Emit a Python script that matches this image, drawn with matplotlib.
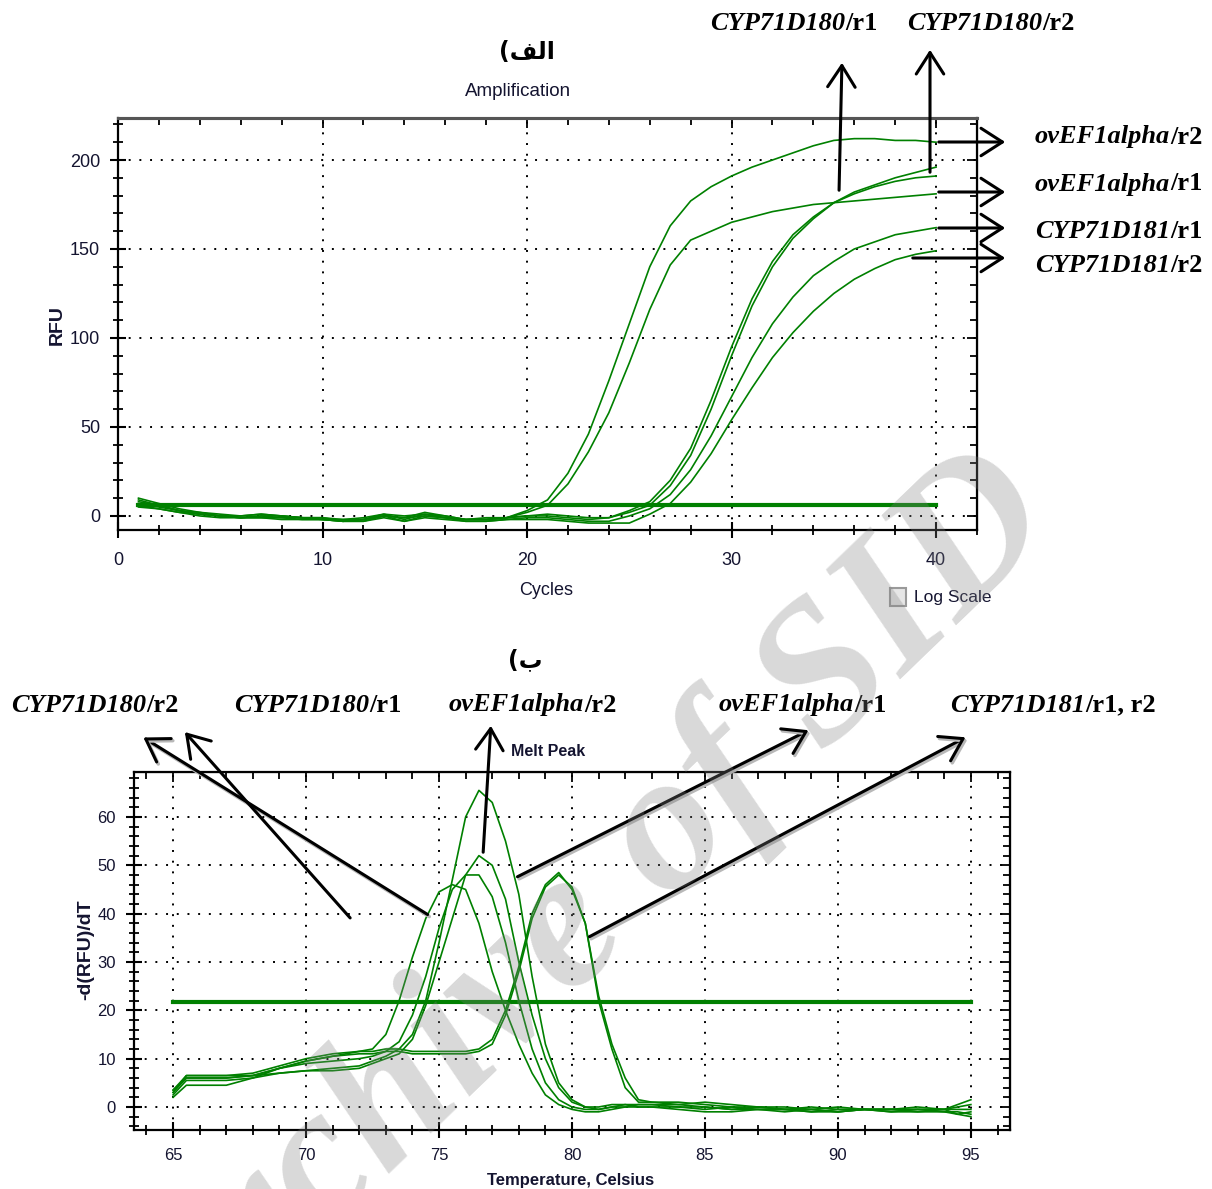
import numpy as np
import matplotlib.pyplot as plt
from matplotlib.ticker import MultipleLocator
from matplotlib.patches import Rectangle, FancyArrowPatch
import matplotlib.patheffects as pe

SANS = ['Liberation Sans', 'DejaVu Sans']
SERIF = ['Liberation Serif', 'DejaVu Serif']
GREEN = '#008000'
TXT = '#141430'

# ---- amplification data (cycles 1..40) ----
cycles = np.arange(1, 41)
ef_r2 = [10, 7, 4, 2, 1, 0, 1, 0, -1, -1, -2, -1, 1, 0, 1, -1, -2, -2, -1, 3,
         9, 24, 46, 76, 108, 140, 163, 177, 185, 191, 196, 200, 204, 208, 211, 212, 212, 211, 211, 210]
ef_r1 = [9, 6, 3, 1, 0, -1, 0, -1, -2, -2, -3, -2, 0, -1, 2, 0, -2, -2, -1, 2,
         6, 18, 36, 58, 86, 116, 141, 155, 160, 165, 168, 171, 173, 175, 176, 177, 178, 179, 180, 181]
cyp180_r1 = [7, 5, 3, 1, 0, -1, 0, 0, -1, -1, -3, -2, 1, -2, 1, 0, -2, -2, -1, 0,
             0, -1, -2, -1, 3, 8, 20, 38, 65, 95, 122, 143, 158, 168, 176, 181, 185, 188, 190, 191]
cyp180_r2 = [8, 6, 3, 2, 0, 0, 1, 0, -1, -2, -2, -2, 0, -1, 0, -1, -2, -1, -1, 0,
             1, 0, -1, -1, 2, 6, 17, 34, 60, 90, 118, 140, 156, 167, 176, 182, 186, 190, 193, 196]
cyp181_r1 = [6, 4, 2, 1, 0, -1, -1, -1, -1, -2, -3, -3, 0, -3, 0, -1, -3, -3, -2, -1,
             -1, -2, -3, -3, 0, 4, 12, 26, 45, 67, 89, 108, 123, 135, 143, 150, 154, 158, 160, 162]
cyp181_r2 = [5, 4, 2, 0, -1, -1, -1, -2, -2, -2, -3, -3, -1, -3, -1, -2, -3, -3, -2, -2,
             -2, -3, -4, -4, -4, 1, 7, 19, 35, 54, 72, 89, 103, 115, 125, 133, 139, 144, 147, 149]
amp_threshold = 6

# ---- melt peak data ----
temp = [65, 65.5, 66, 67, 68, 69, 70, 71,
        72, 72.5, 73, 73.5, 74, 74.5, 75, 75.5, 76, 76.5, 77, 77.5, 78, 78.5,
        79, 79.5, 80, 80.5, 81, 81.5, 82, 82.5, 83,
        84, 85, 86, 87, 88, 89, 90, 91, 92, 93, 94, 94.5, 95]
melt_a = [3, 6.5, 6.5, 6.5, 6.5, 7, 7.5, 8,
          8.5, 9.5, 10.5, 12, 15, 22, 34, 47, 60, 65.5, 63, 55, 44, 27, 13, 5, 1.5, 0, -0.5, 0, 0.5, 0.5, 0.5,
          0, 0, -0.5, -0.5, -0.5, -1, -0.5, -0.5, -1, -0.5, -0.5, 0, 0.5]
melt_b = [2.5, 5.5, 5.5, 5.5, 6, 7, 7.5, 7.5,
          8, 9, 10, 11, 14, 21, 30, 39, 48, 52, 50, 43, 30, 19, 10, 4, 1, 0, 0, 0.5, 0.5, 0, 0,
          0, -0.5, 0, -0.5, -1, -0.5, -1, -0.5, -0.5, -1, -1, -1.5, -1]
melt_c = [3.5, 6, 6, 6, 6.5, 8, 9, 9.5,
          10, 10.5, 11.5, 13.5, 19, 27, 37, 45, 48, 48, 43.5, 34, 22, 12, 5, 1.5, 0, -0.5, -0.5, 0, 0, 0.5, 0.5,
          0.5, 0, -0.5, 0, -0.5, -0.5, -1, -0.5, -0.5, -0.5, -1, -1, -1.5]
melt_d = [2, 4.5, 4.5, 4.5, 6, 8, 9.5, 10.5,
          11.5, 12, 15, 22, 31, 39, 44.5, 46, 45, 38, 28, 20, 13, 7, 2.5, 0.5, -0.5, -1, -1, -0.5, 0, 0, 0,
          -0.5, -1, -1, -0.5, -0.5, -1, -1, -0.5, -1, -1, -0.5, -1.5, -2]
melt_e = [3.5, 6.5, 6.5, 6.5, 7, 8.5, 10, 11,
          11.5, 11.5, 12, 12, 11.5, 11.5, 11.5, 11.5, 11.5, 12, 14, 20, 29, 40, 46, 48.5, 45, 38, 22, 12, 4, 1, 1,
          1, 0.5, 0, 0, -0.5, 0, -0.5, -0.5, -0.5, -0.5, -0.5, 0.5, 1.5]
melt_f = [3, 6, 6, 6, 6.5, 8, 9.5, 10.5,
          11, 11, 11.5, 11.5, 11, 11, 11, 11, 11, 11.5, 13, 19, 28, 39, 45.5, 48, 45.5, 38, 23, 13, 6, 1.5, 1,
          0.5, 1, 0.5, 0, 0, -0.5, 0, -0.5, -0.5, 0, -0.5, -0.5, -0.5]
melt_threshold = 21.7

W, H = 1212, 1189


def fx(x):
    return x / W


def fy(y):
    return 1 - y / H


def style(ax, xmaj, xmin, ymaj, ymin, fs, xpad):
    ax.xaxis.set_major_locator(MultipleLocator(xmaj))
    ax.xaxis.set_minor_locator(MultipleLocator(xmin))
    ax.yaxis.set_major_locator(MultipleLocator(ymaj))
    ax.yaxis.set_minor_locator(MultipleLocator(ymin))
    ax.tick_params(which='major', direction='inout', length=12, width=1.5, labelsize=fs,
                   colors='black', labelcolor=TXT)
    ax.tick_params(which='minor', direction='inout', length=7, width=1.3)
    ax.tick_params(axis='x', which='major', pad=xpad)
    ax.tick_params(axis='y', which='major', pad=7)
    for lab in ax.get_xticklabels() + ax.get_yticklabels():
        lab.set_family(SANS)
    ax.grid(which='major', linestyle=(0, (1, 4.5)), color='black', lw=1.4)
    for s in ax.spines.values():
        s.set_linewidth(1.6)
    # inward ticks on top and right
    sx = ax.secondary_xaxis('top')
    sx.xaxis.set_major_locator(MultipleLocator(xmaj))
    sx.xaxis.set_minor_locator(MultipleLocator(xmin))
    sx.tick_params(which='both', direction='in', labeltop=False, width=1.3)
    sx.tick_params(which='major', length=7)
    sx.tick_params(which='minor', length=5)
    sy = ax.secondary_yaxis('right')
    sy.yaxis.set_major_locator(MultipleLocator(ymaj))
    sy.yaxis.set_minor_locator(MultipleLocator(ymin))
    sy.tick_params(which='both', direction='in', labelright=False, width=1.3)
    sy.tick_params(which='major', length=7)
    sy.tick_params(which='minor', length=5)
    return sx, sy


fig = plt.figure(figsize=(12.12, 11.89), dpi=100)

# ---------------- top: amplification ----------------
ax1 = fig.add_axes([fx(118), fy(530), fx(977 - 118), (530 - 118) / H])
for yv in [ef_r2, ef_r1, cyp180_r1, cyp180_r2, cyp181_r1, cyp181_r2]:
    ax1.plot(cycles, yv, color=GREEN, lw=1.2)
ax1.plot([1, 40], [amp_threshold, amp_threshold], color=GREEN, lw=3)
ax1.set_xlim(0, 42)
ax1.set_ylim(-7.9, 223.6)
sx, sy = style(ax1, 10, 2, 50, 10, 13, 10)
ax1.spines['top'].set_color('#555555')
ax1.spines['top'].set_linewidth(2.2)
sx.spines['top'].set_color('#555555')
sx.spines['top'].set_linewidth(2.2)

fig.text(fx(518), fy(92), 'Amplification', family=SANS, fontsize=13.5, color=TXT,
         ha='center', va='center')
fig.text(fx(546), fy(590), 'Cycles', family=SANS, fontsize=13, color=TXT,
         ha='center', va='center')
fig.text(fx(57), fy(325), 'RFU', family=SANS, fontweight='bold',
         fontsize=14, color=TXT, rotation=90, ha='center', va='center')
fig.add_artist(Rectangle((fx(890), fy(606)), fx(16), 18 / H, transform=fig.transFigure,
                         facecolor='#e6e6e6', edgecolor='#9a9a9a', lw=1.5))
fig.text(fx(914), fy(598), 'Log Scale', family=SANS, fontsize=12.5, color=TXT,
         ha='left', va='center')

# ---------------- bottom: melt peak ----------------
ax2 = fig.add_axes([fx(134), fy(1130), fx(1010 - 134), (1130 - 772) / H])
for yv in [melt_a, melt_b, melt_c, melt_d, melt_e, melt_f]:
    ax2.plot(temp, yv, color=GREEN, lw=1.2)
ax2.plot([65, 95], [melt_threshold, melt_threshold], color=GREEN, lw=3)
ax2.set_xlim(63.53, 96.47)
ax2.set_ylim(-4.76, 69.3)
style(ax2, 5, 1, 10, 2, 12, 7)

fig.text(fx(548), fy(752), 'Melt Peak', family=SANS, fontweight='bold', fontsize=11.5,
         color=TXT, ha='center', va='center')
fig.text(fx(571), fy(1180), 'Temperature, Celsius', family=SANS, fontweight='bold',
         fontsize=12, color=TXT, ha='center', va='center')
fig.text(fx(86), fy(950), '-d(RFU)/dT', family=SANS,
         fontweight='bold', fontsize=14, color=TXT, rotation=90, ha='center', va='center')

# ---------------- panel letters (Persian, shaped in visual order) ----------------
fig.text(fx(527), fy(52), '(\uFED2\uFEDF\uFE8D', family=['DejaVu Sans'], fontweight='bold',
         fontsize=17, ha='center', va='center')
fig.text(fx(525), fy(660), '(\uFE8F', family=['DejaVu Sans'], fontweight='bold',
         fontsize=17, ha='center', va='center')


# ---------------- gene labels: italic gene + upright replicate ----------------
def gene_label(x, y, gene, rep):
    t = fig.text(fx(x), fy(y), gene, family=SERIF, fontweight='bold', style='italic',
                 fontsize=19, color='black', ha='left', va='center')
    ann = plt.Annotation(rep, xy=(1, 0), xycoords=t, ha='left', va='bottom',
                         family=SERIF, fontweight='bold', fontsize=19, color='black')
    fig.add_artist(ann)


gene_label(710, 23, 'CYP71D180', '/r1')
gene_label(907, 23, 'CYP71D180', '/r2')
gene_label(1035, 137, 'ovEF1alpha', '/r2')
gene_label(1035, 184, 'ovEF1alpha', '/r1')
gene_label(1035, 231, 'CYP71D181', '/r1')
gene_label(1035, 265, 'CYP71D181', '/r2')

gene_label(11, 705, 'CYP71D180', '/r2')
gene_label(234, 705, 'CYP71D180', '/r1')
gene_label(449, 705, 'ovEF1alpha', '/r2')
gene_label(719, 705, 'ovEF1alpha', '/r1')
gene_label(950, 705, 'CYP71D181', '/r1, r2')


def arrow(x0, y0, x1, y1, shadow=False):
    a = FancyArrowPatch((fx(x0), fy(y0)), (fx(x1), fy(y1)), transform=fig.transFigure,
                        arrowstyle='->,head_length=0.7,head_width=0.45', mutation_scale=22,
                        lw=2.2, color='black', zorder=6)
    if shadow:
        a.set_path_effects([pe.Stroke(offset=(1.2, -1.5), linewidth=2.5, foreground='0.72'),
                            pe.Normal()])
    fig.add_artist(a)


# top arrows
arrow(839, 193, 842, 60)
arrow(930, 175, 930, 47)
arrow(936, 142, 1008, 142)
arrow(936, 192, 1008, 192)
arrow(936, 228, 1008, 228)
arrow(910, 258, 1008, 258)
# bottom arrows
arrow(430, 916, 141, 736, shadow=True)
arrow(352, 920, 183, 730)
arrow(483, 855, 491, 723)
arrow(515, 878, 811, 729, shadow=True)
arrow(587, 938, 968, 736, shadow=True)

# watermark
fig.text(fx(585), fy(925), 'Archive of SID', family=SERIF, fontweight='bold', style='italic',
         fontsize=143, color='0.5', alpha=0.3, rotation=44, ha='center', va='center',
         rotation_mode='anchor', zorder=20)

fig.savefig('out.png', dpi=100)
